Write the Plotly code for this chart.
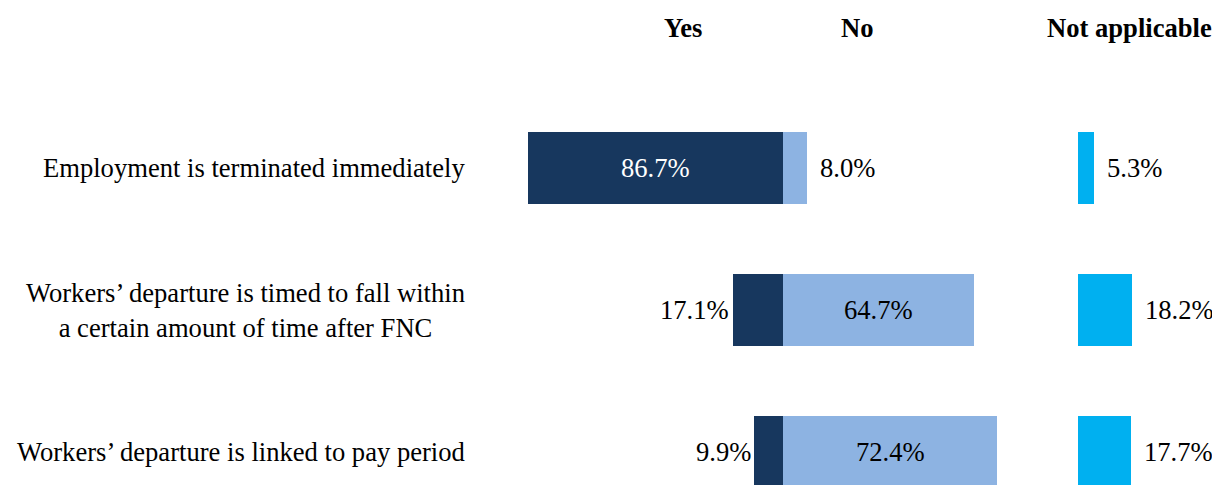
import plotly.graph_objects as go

# ---- data ----
categories = [
    "Employment is terminated immediately",
    "Workers’ departure is timed to fall within<br>a certain amount of time after FNC",
    "Workers’ departure is linked to pay period",
]
yes_vals = [86.7, 17.1, 9.9]
no_vals = [8.0, 64.7, 72.4]
na_vals = [5.3, 18.2, 17.7]
headers = ["Yes", "No", "Not applicable"]

# ---- styling / layout constants ----
PAGE_OFF = 8          # default body margin of the html page
WIN_W, WIN_H = 1220, 485
W, H = WIN_W - PAGE_OFF, WIN_H - PAGE_OFF
PX_PER_UNIT = 2.95
ORIGIN_PX = 783.3 - PAGE_OFF
NA_OFFSET = 100.0
ROW_PX = [168 - PAGE_OFF, 310 - PAGE_OFF, 452 - PAGE_OFF]
ROW_STEP = 142.0
BAR_H = 72.5
FONT = "Liberation Serif, Times New Roman, serif"
FS = 26.6
C_YES = "#17375e"
C_NO = "#8db3e2"
C_NA = "#00b0f0"

x_range = [-ORIGIN_PX / PX_PER_UNIT, (W - ORIGIN_PX) / PX_PER_UNIT]
y_top = 0 - ROW_PX[0] / ROW_STEP
y_bot = 2 + (H - ROW_PX[2]) / ROW_STEP
ypos = list(range(len(categories)))

fig = go.Figure()
fig.add_trace(go.Bar(y=ypos, x=yes_vals, base=[-v for v in yes_vals], orientation="h",
                     marker=dict(color=C_YES, line=dict(width=0)), width=BAR_H / ROW_STEP,
                     hoverinfo="skip", showlegend=False))
fig.add_trace(go.Bar(y=ypos, x=no_vals, base=[0] * len(no_vals), orientation="h",
                     marker=dict(color=C_NO, line=dict(width=0)), width=BAR_H / ROW_STEP,
                     hoverinfo="skip", showlegend=False))
fig.add_trace(go.Bar(y=ypos, x=na_vals, base=[NA_OFFSET] * len(na_vals), orientation="h",
                     marker=dict(color=C_NA, line=dict(width=0)), width=BAR_H / ROW_STEP,
                     hoverinfo="skip", showlegend=False))

ann = []
GAP_R = 11.5 / PX_PER_UNIT
GAP_L = 1.5 / PX_PER_UNIT
INSIDE_MIN = 30
for i, (yv, nv, av) in enumerate(zip(yes_vals, no_vals, na_vals)):
    # Yes
    if yv >= INSIDE_MIN:
        ann.append(dict(x=-yv / 2, y=i, text=f"{yv:.1f}%", xanchor="center",
                        font=dict(color="white")))
    else:
        ann.append(dict(x=-yv - GAP_L, y=i, text=f"{yv:.1f}%", xanchor="right",
                        font=dict(color="black")))
    # No
    if nv >= INSIDE_MIN:
        ann.append(dict(x=nv / 2, y=i, text=f"{nv:.1f}%", xanchor="center",
                        font=dict(color="black")))
    else:
        ann.append(dict(x=nv + GAP_R, y=i, text=f"{nv:.1f}%", xanchor="left",
                        font=dict(color="black")))
    # NA
    ann.append(dict(x=NA_OFFSET + av + GAP_R, y=i, text=f"{av:.1f}%", xanchor="left",
                    font=dict(color="black")))
    # category label
    ann.append(dict(x=(467 - PAGE_OFF) / W, xref="paper", y=i, text=categories[i],
                    xanchor="right", align="center", font=dict(color="black")))

for a in ann:
    a.setdefault("xref", "x")
    a["yref"] = "y"
    a["showarrow"] = False
    a["yanchor"] = "middle"
    a["font"] = dict(family=FONT, size=FS, color=a["font"]["color"])

header_px = [683, 857, 1129]
for h, px in zip(headers, header_px):
    ann.append(dict(x=(px - PAGE_OFF) / W, xref="paper", y=1 - (28 - PAGE_OFF) / H,
                    yref="paper", text=f"<b>{h}</b>",
                    showarrow=False, xanchor="center", yanchor="middle",
                    font=dict(family=FONT, size=FS, color="black")))

fig.update_layout(
    width=W, height=H, autosize=False,
    margin=dict(l=0, r=0, t=0, b=0),
    paper_bgcolor="white", plot_bgcolor="white",
    barmode="overlay", bargap=0,
    xaxis=dict(range=x_range, visible=False, fixedrange=True),
    yaxis=dict(range=[y_bot, y_top], visible=False, fixedrange=True),
    annotations=ann,
    showlegend=False,
)

fig.write_html("out.html", config={"displayModeBar": False})
